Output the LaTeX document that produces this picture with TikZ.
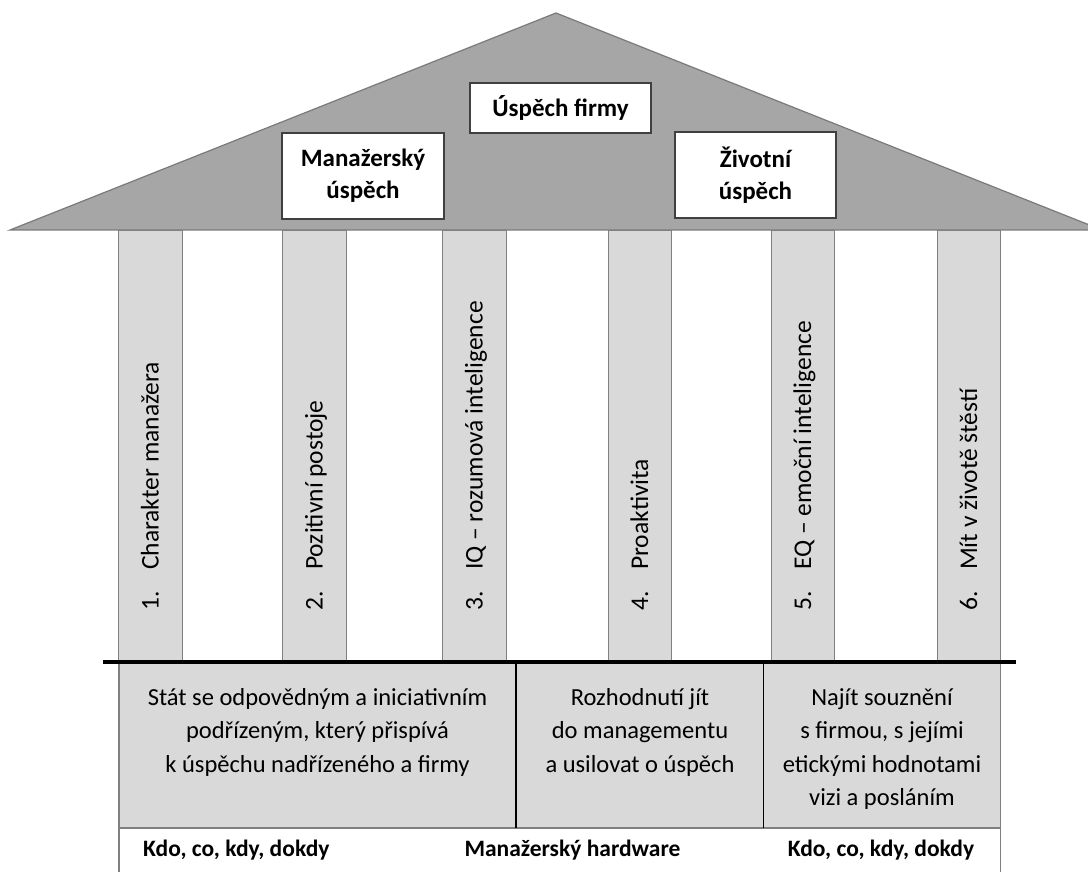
\documentclass[tikz,border=0pt]{standalone}
\usepackage{fontspec}
\setmainfont{Carlito}
\definecolor{roofgray}{HTML}{A6A6A6}
\definecolor{roofedge}{HTML}{7A7A7A}
\definecolor{pillargray}{HTML}{D9D9D9}
\definecolor{pillaredge}{HTML}{808080}
\definecolor{boxedge}{HTML}{404040}
\begin{document}
\begin{tikzpicture}[x=1pt,y=-1pt,
  roof/.style={fill=roofgray, draw=roofedge, line width=1.2pt, line join=miter},
  titlebox/.style={draw=boxedge, fill=white, line width=1.2pt, align=center, inner sep=0pt,
    font=\fontsize{25}{32}\selectfont\bfseries},
  pillar/.style={fill=pillargray, draw=pillaredge, line width=1pt, inner sep=0pt,
    anchor=north west, minimum height=432pt},
  pillartext/.style={rotate=90, anchor=base west, inner sep=0pt, font=\fontsize{25.5}{30}\selectfont},
  celltext/.style={anchor=north, align=center, inner sep=0pt, font=\fontsize{24.5}{33.5}\selectfont},
  footer/.style={inner sep=0pt, font=\fontsize{23.5}{28}\selectfont\bfseries},
  divider/.style={draw=black, line width=1.3pt},
  groundline/.style={draw=black, line width=3.5pt}
]
\useasboundingbox (0,0) rectangle (1088,872);
\clip (0,0) rectangle (1088,872);

% roof
\filldraw[roof] (10,230) -- (556,13) -- (1102,230) -- cycle;

% labels inside the roof
\node[titlebox, minimum width=181pt, minimum height=50pt] (firm) at (560.5,108) {Úspěch firmy};
\node[titlebox, minimum width=162pt, minimum height=86pt] (mgr) at (363,176) {Manažerský\\úspěch};
\node[titlebox, minimum width=161pt, minimum height=86pt] (life) at (755.5,175) {Životní\\úspěch};

% pillars
\node[pillar, minimum width=64pt] (p1) at (118,230) {};
\node[pillar, minimum width=64pt] (p2) at (282,230) {};
\node[pillar, minimum width=64pt] (p3) at (442,230) {};
\node[pillar, minimum width=63pt] (p4) at (608,230) {};
\node[pillar, minimum width=63pt] (p5) at (771,230) {};
\node[pillar, minimum width=63pt] (p6) at (937,230) {};

\newcommand{\pillarlabel}[2]{\makebox[41pt][l]{#1}#2}
\node[pillartext] (t1) at (158.5,611) {\pillarlabel{1.}{Charakter manažera}};
\node[pillartext] (t2) at (322.5,611) {\pillarlabel{2.}{Pozitivní postoje}};
\node[pillartext] (t3) at (482.5,611) {\pillarlabel{3.}{IQ – rozumová inteligence}};
\node[pillartext] (t4) at (648,611) {\pillarlabel{4.}{Proaktivita}};
\node[pillartext] (t5) at (811,611) {\pillarlabel{5.}{EQ – emoční inteligence}};
\node[pillartext] (t6) at (977,611) {\pillarlabel{6.}{Mít v životě štěstí}};

% foundation
\filldraw[fill=pillargray, draw=pillaredge, line width=1.3pt] (119,662) rectangle (1000.5,828);
\draw[draw=pillaredge, line width=1.3pt] (119,828) -- (119,880) (1000.5,828) -- (1000.5,880);
\coordinate (d1t) at (516,662);
\coordinate (d1b) at (516,828);
\coordinate (d2t) at (763.5,662);
\coordinate (d2b) at (763.5,828);
\draw[divider] (d1t) -- (d1b);
\draw[divider] (d2t) -- (d2b);
\coordinate (gl) at (103,662);
\coordinate (gr) at (1016,662);
\draw[groundline] (gl) -- (gr);

\node[celltext] (c1) at (317.5,688) {Stát se odpovědným a iniciativním\\podřízeným, který přispívá\\k úspěchu nadřízeného a firmy};
\node[celltext] (c2) at (640,688) {Rozhodnutí jít\\do managementu\\a usilovat o úspěch};
\node[celltext] (c3) at (882,688) {Najít souznění\\s firmou, s jejími\\etickými hodnotami\\vizi a posláním};

% footer row
\node[footer, anchor=west] (f1) at (143,850) {Kdo, co, kdy, dokdy};
\node[footer] (f2) at (572.5,850) {Manažerský hardware};
\node[footer] (f3) at (881,850) {Kdo, co, kdy, dokdy};
\end{tikzpicture}
\end{document}
